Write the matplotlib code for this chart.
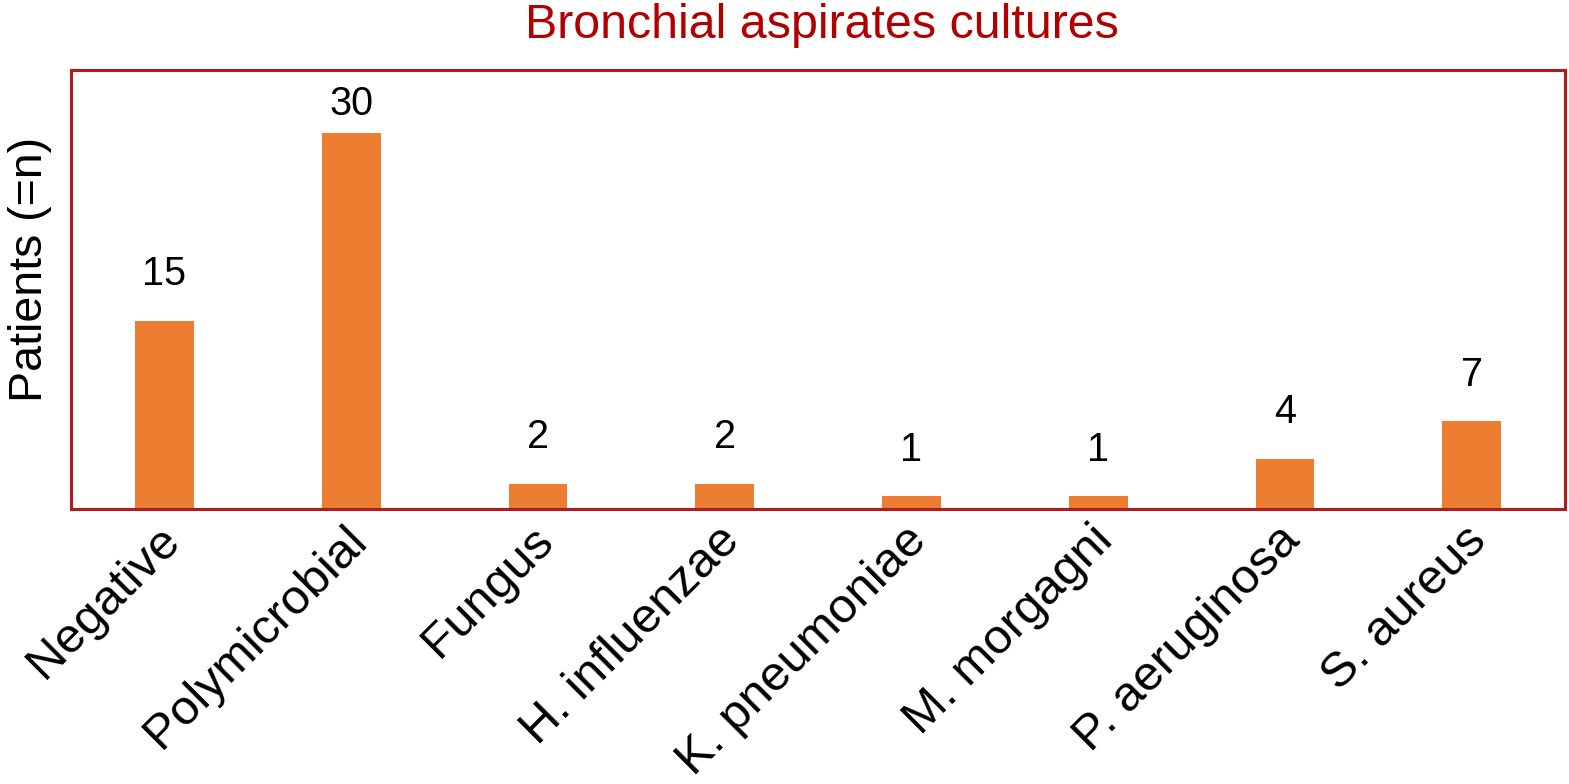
import matplotlib
matplotlib.use("Agg")
import matplotlib.pyplot as plt
import matplotlib.transforms as mtransforms

categories = ["Negative", "Polymicrobial", "Fungus", "H. influenzae",
              "K. pneumoniae", "M. morgagni", "P. aeruginosa", "S. aureus"]
patients = [15, 30, 2, 2, 1, 1, 4, 7]
title = "Bronchial aspirates cultures"
ylabel = "Patients (=n)"

plt.rcParams['font.family'] = ['Liberation Sans', 'DejaVu Sans']

fig = plt.figure(figsize=(15.69, 7.84), dpi=100)
ax = fig.add_axes([0.0453, 0.3508, 0.9522, 0.5599])

x = list(range(len(categories)))
ax.bar(x, patients, width=0.315, color="#ED7D31", zorder=2)
ax.set_xlim(-0.5, len(categories) - 0.5)
ax.set_ylim(0, 35)

for xi, v in zip(x, patients):
    ax.text(xi, min(v + 2.2, 30.8), str(v), ha="center", va="bottom",
            fontsize=28.5, color="black")

for s in ax.spines.values():
    s.set_color("#B01C1C")
    s.set_linewidth(2.2)

ax.set_yticks([])
ax.set_xticks(x)
ax.set_xticklabels(categories, rotation=45, ha="right", va="center",
                   rotation_mode="anchor", fontsize=35.5)
ax.tick_params(axis="x", length=0, pad=12)
offset = mtransforms.ScaledTranslation(8 / 100, -8 / 100, fig.dpi_scale_trans)
for lab in ax.get_xticklabels():
    lab.set_transform(lab.get_transform() + offset)
ax.set_ylabel(ylabel, fontsize=33.5)
ax.yaxis.set_label_coords(-0.0127, 0.545)
fig.text(0.524, 0.967, title, ha="center", va="center", fontsize=34.8, color="#B00000")

fig.savefig("out.png", dpi=100)
